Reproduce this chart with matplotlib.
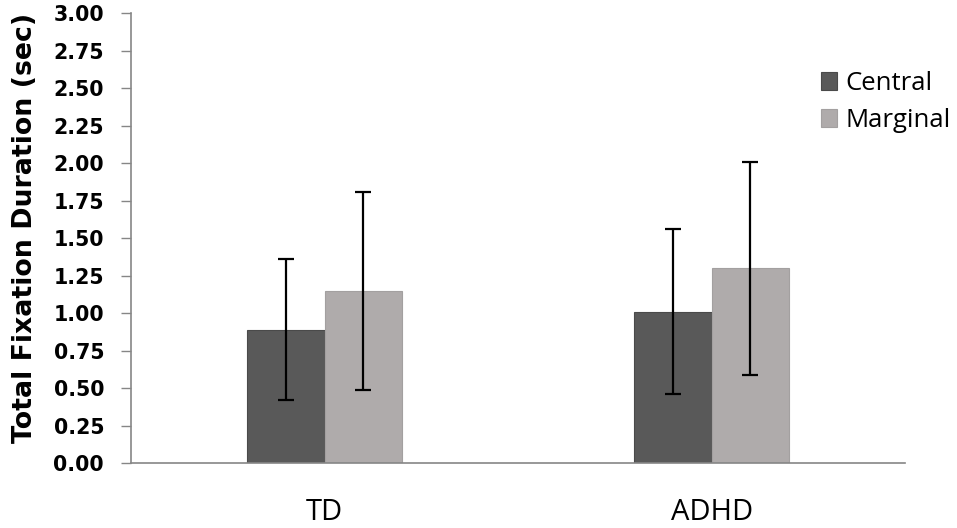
import numpy as np
import matplotlib.pyplot as plt

groups = ['TD', 'ADHD']
central = [0.89, 1.01]
marginal = [1.15, 1.30]
central_err = [0.47, 0.55]
marginal_err = [0.66, 0.71]

plt.rcParams['font.family'] = ['Open Sans', 'DejaVu Sans']

fig = plt.figure(figsize=(9.57, 5.28), dpi=100)
ax = fig.add_axes([0.137, 0.123, 0.809, 0.852])

x = np.arange(len(groups))
w = 0.2
ax.bar(x - w / 2, central, w, color='#595959', edgecolor='#4a4a4a', linewidth=0.8,
       label='Central')
ax.bar(x + w / 2, marginal, w, color='#afabab', edgecolor='#a3a0a0', linewidth=0.8,
       label='Marginal')
ax.errorbar(x - w / 2, central, yerr=central_err, fmt='none', ecolor='black',
            elinewidth=1.6, capsize=5.5, capthick=1.6)
ax.errorbar(x + w / 2, marginal, yerr=marginal_err, fmt='none', ecolor='black',
            elinewidth=1.6, capsize=5.5, capthick=1.6)

ax.set_xlim(-0.5, 1.5)
ax.set_ylim(0, 3)
ticks = np.arange(0, 3.01, 0.25)
ax.set_yticks(ticks)
ax.set_yticklabels([f'{v:.2f}' for v in ticks], fontsize=14.8,
                   fontweight='bold', family='DejaVu Sans')
ax.set_xticks(x)
ax.set_xticklabels(groups, fontsize=21)
ax.tick_params(axis='x', length=0, pad=25)
ax.tick_params(axis='y', length=7.5, width=1, color='#868686', pad=12)

for s in ['top', 'right']:
    ax.spines[s].set_visible(False)
ax.spines['left'].set_color('#868686')
ax.spines['bottom'].set_color('#868686')
ax.spines['left'].set_linewidth(1.2)
ax.spines['bottom'].set_linewidth(1.2)

fig.text(25 / 957, 0.568, 'Total Fixation Duration (sec)', rotation=90,
         ha='center', va='center', fontsize=19.3, fontweight='bold',
         family='DejaVu Sans')

fig.legend(loc='upper left', bbox_to_anchor=(821 / 957, 1 - 71 / 528),
           frameon=False, fontsize=18.5, handlelength=0.62, handleheight=0.7,
           handletextpad=0.32, labelspacing=0.45, borderpad=0, borderaxespad=0)

plt.savefig('out.png', dpi=100)
